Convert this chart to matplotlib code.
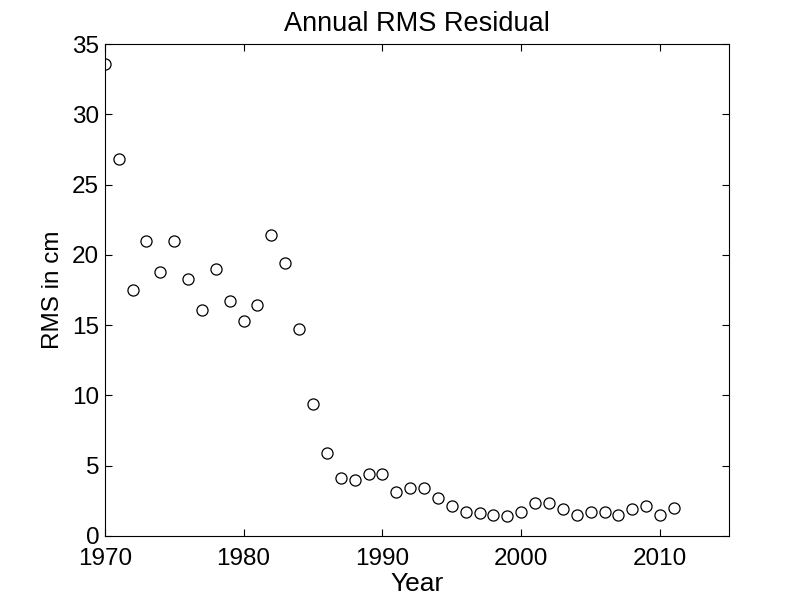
import numpy as np
import matplotlib
matplotlib.use("Agg")
import matplotlib.pyplot as plt

plt.rcParams['font.family'] = ['Liberation Sans', 'DejaVu Sans']

years = np.arange(1970, 2012)
rms = [33.6, 26.8, 17.5, 21.0, 18.8, 21.0, 18.3, 16.1, 19.0, 16.7,
       15.3, 16.4, 21.4, 19.4, 14.7, 9.4, 5.9, 4.1, 4.0, 4.4,
       4.4, 3.1, 3.4, 3.4, 2.7, 2.1, 1.7, 1.6, 1.5, 1.4,
       1.7, 2.3, 2.3, 1.9, 1.5, 1.7, 1.7, 1.5, 1.9, 2.1,
       1.5, 2.0]

fig = plt.figure(figsize=(8.06, 6.04), dpi=100)
ax = fig.add_axes([0.13, 0.113, 0.775, 0.814])

ax.plot(years, rms, 'o', mfc='none', mec='k', ms=8, mew=0.9)

ax.set_xlim(1970, 2015)
ax.set_ylim(0, 35)
ax.set_xticks([1970, 1980, 1990, 2000, 2010])
ax.set_yticks(np.arange(0, 36, 5))
ax.tick_params(direction='in', top=True, right=True, length=5, width=0.8,
               labelsize=17.5)
ax.tick_params(axis='x', pad=9)
ax.tick_params(axis='y', pad=4)
for s in ax.spines.values():
    s.set_linewidth(0.8)

ax.set_title("Annual RMS Residual", fontsize=19.5, pad=9.5)
ax.set_xlabel("Year", fontsize=19, labelpad=1)
ax.set_ylabel("RMS in cm", fontsize=17.5, labelpad=5.5)

fig.savefig("out.png", dpi=100)
